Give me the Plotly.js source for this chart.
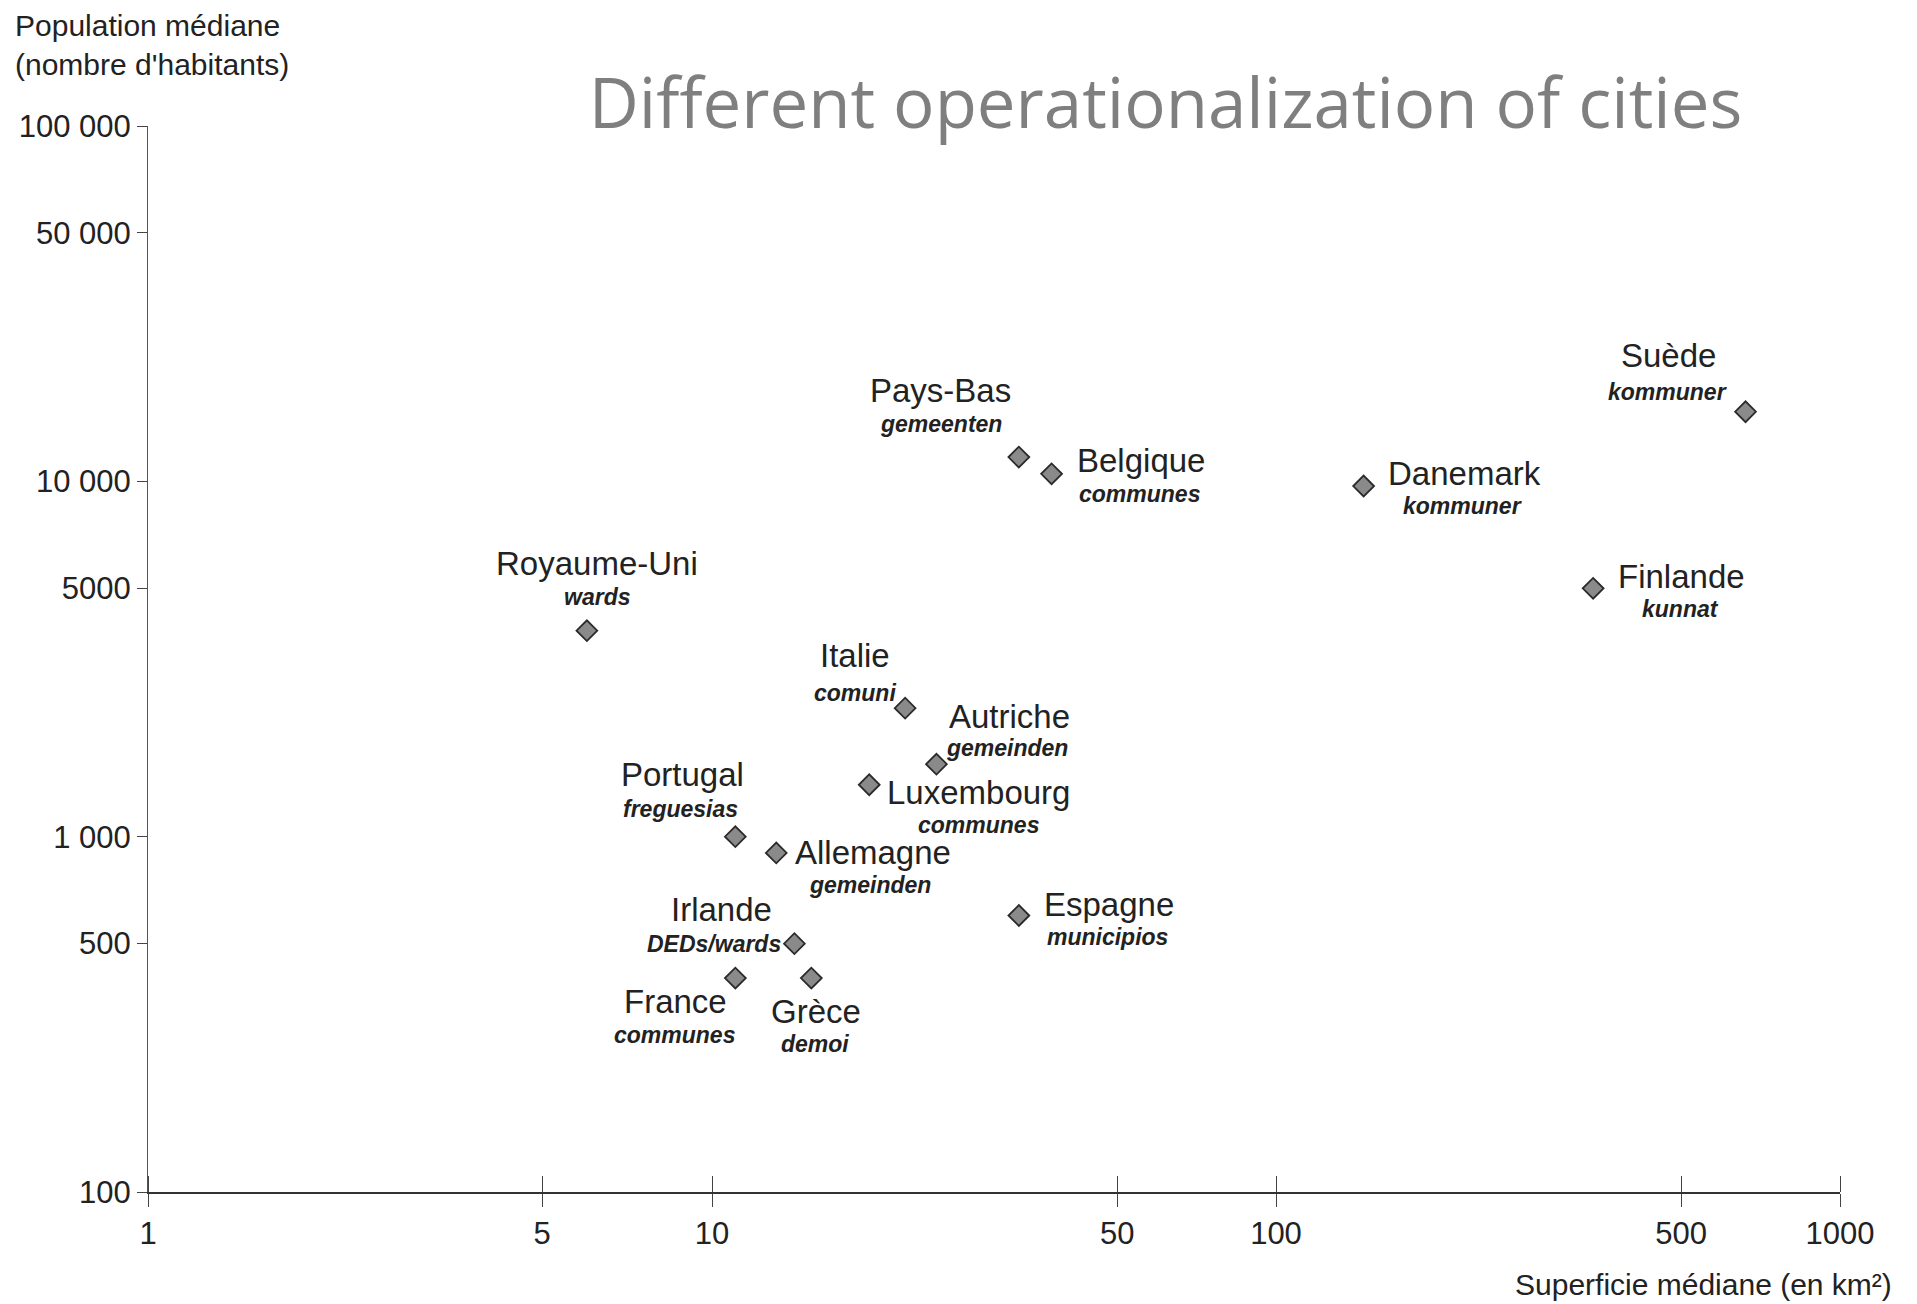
<!DOCTYPE html>
<html>
<head>
<meta charset="utf-8">
<script src="https://cdn.plot.ly/plotly-3.0.1.min.js"></script>
<style>html,body{margin:0;padding:0;background:#fff;}#chart{width:1917px;height:1304px;}</style>
</head>
<body>
<div id="chart"></div>
<script>
// ---- data ----
const countries = ["Royaume-Uni","Pays-Bas","Belgique","Danemark","Suède","Finlande","Italie","Autriche","Luxembourg","Portugal","Allemagne","Espagne","Irlande","France","Grèce"];
const units = ["wards","gemeenten","communes","kommuner","kommuner","kunnat","comuni","gemeinden","communes","freguesias","gemeinden","municipios","DEDs/wards","communes","demoi"];
const medianArea = [6, 35, 40, 143, 680, 365, 22, 25, 19, 11, 13, 35, 14, 11, 15];
const medianPop = [3800, 11700, 10500, 9700, 15700, 5000, 2300, 1600, 1400, 1000, 900, 600, 500, 400, 400];
// tick positions as drawn in the source figure (its 50 and 500 ticks sit slightly right)
const xTickVals = [1, 5, 10, 52.3, 100, 523, 1000];
const xTickText = ["1", "5", "10", "50", "100", "500", "1000"];
const yTickVals = [100, 500, 1000, 5000, 10000, 50000, 100000];
const yTickText = ["100", "500", "1 000", "5000", "10 000", "50 000", "100 000"];

// ---- label placement (pixel offsets from each marker: name dx, name dy, unit dx, unit dy) ----
const labelOffsets = [
  [10, -67, 10, -34],
  [-78, -67, -78, -33],
  [89, -13, 88, 20],
  [101, -13, 99, 20],
  [-77, -56, -78, -20],
  [88, -12, 87, 21],
  [-50, -53, -50, -15],
  [73, -48, 71, -16],
  [109, 8, 109, 40],
  [-53, -62, -55, -28],
  [97, 0, 94, 32],
  [90, -11, 89, 21],
  [-73, -34, -80, 0],
  [-60, 23, -61, 57],
  [5, 33, 4, 66]
];

const FONT = "'Liberation Sans', Arial, sans-serif";
const annotations = [];
countries.forEach((c, i) => {
  const o = labelOffsets[i];
  const ax = Math.log10(medianArea[i]);
  const ay = Math.log10(medianPop[i]);
  annotations.push({x: ax, y: ay, xref: 'x', yref: 'y', text: c, showarrow: false,
    xshift: o[0], yshift: -o[1], xanchor: 'center', yanchor: 'middle',
    font: {family: FONT, size: 33, color: '#222'}});
  annotations.push({x: ax, y: ay, xref: 'x', yref: 'y', text: '<i>' + units[i] + '</i>', showarrow: false,
    xshift: o[2], yshift: -o[3], xanchor: 'center', yanchor: 'middle',
    font: {family: FONT, size: 23, color: '#222', weight: 'bold'}});
});
annotations.push({xref: 'paper', yref: 'paper', x: -0.08, y: 1.112, xanchor: 'left', yanchor: 'top', align: 'left',
  text: "Population médiane<br>(nombre d'habitants)", showarrow: false,
  font: {family: FONT, size: 30, color: '#222'}});
annotations.push({xref: 'paper', yref: 'paper', x: 1.032, y: -0.087, xanchor: 'right', yanchor: 'middle',
  text: "Superficie médiane (en km²)", showarrow: false,
  font: {family: FONT, size: 30, color: '#222'}});

const trace = {
  type: 'scatter', mode: 'markers',
  x: medianArea, y: medianPop, text: countries,
  marker: {symbol: 'diamond', size: 16, color: '#8a8a8a', line: {color: '#2a2a2a', width: 1.8}},
  hoverinfo: 'text', cliponaxis: false
};
// same points on the overlaid axis (invisible) so the inner half of the x ticks is drawn
const tickTrace = {
  type: 'scatter', mode: 'markers', xaxis: 'x2', yaxis: 'y',
  x: medianArea, y: medianPop,
  marker: {opacity: 0, size: 1}, hoverinfo: 'skip', showlegend: false
};

const layout = {
  width: 1917, height: 1304,
  margin: {l: 148, r: 77, t: 126, b: 112},
  paper_bgcolor: '#fff', plot_bgcolor: '#fff',
  showlegend: false,
  title: {text: 'Different operationalization of cities', x: 0.608, xref: 'container', xanchor: 'center',
    y: 0.92, yref: 'container', yanchor: 'middle',
    font: {family: "'Open Sans', sans-serif", size: 69, color: '#7f7f7f'}},
  xaxis: {type: 'log', range: [0, 3], tickvals: xTickVals, ticktext: xTickText,
    showgrid: false, zeroline: false, showline: true, linecolor: '#333', linewidth: 2,
    ticks: 'outside', ticklen: 13, tickcolor: '#444', tickwidth: 1,
    minor: {ticks: 'inside', tickvals: xTickVals, ticklen: 16, tickcolor: '#444', tickwidth: 1},
    tickfont: {family: FONT, size: 31, color: '#222'}, fixedrange: true},
  xaxis2: {type: 'log', range: [0, 3], tickvals: xTickVals, overlaying: 'x', anchor: 'y', side: 'bottom',
    showticklabels: false, showgrid: false, zeroline: false, showline: false,
    ticks: 'inside', ticklen: 16, tickcolor: '#444', tickwidth: 1, fixedrange: true},
  yaxis: {type: 'log', range: [2, 5], tickvals: yTickVals, ticktext: yTickText,
    showgrid: false, zeroline: false, showline: true, linecolor: '#555', linewidth: 1,
    ticks: 'outside', ticklen: 10, tickcolor: '#444', tickwidth: 1,
    tickfont: {family: FONT, size: 31, color: '#222'}, fixedrange: true},
  annotations: annotations,
  hovermode: false
};

Plotly.newPlot('chart', [tickTrace, trace], layout, {displayModeBar: false, staticPlot: true});
</script>
</body>
</html>
